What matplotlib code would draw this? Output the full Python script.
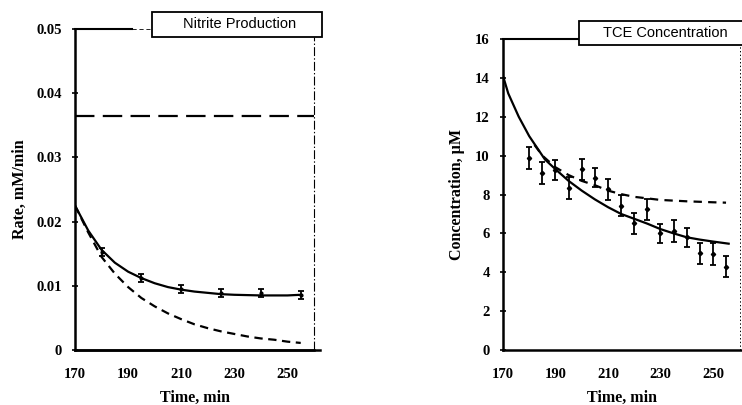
import numpy as np
import matplotlib
matplotlib.use('Agg')
from matplotlib import pyplot as plt
from matplotlib.patches import Rectangle

plt.rcParams['lines.scale_dashes'] = False
SERIF = ['Liberation Serif', 'DejaVu Serif']
SANS = ['Liberation Sans', 'DejaVu Sans']

#### DATA ####
# left panel: nitrite production rate
nit_t = [180, 195, 210, 225, 240, 255]
nit_rate = [0.0153, 0.0112, 0.0095, 0.0089, 0.0089, 0.0086]
nit_err = [0.0006, 0.0006, 0.0006, 0.0006, 0.0006, 0.0006]
nit_fit_t = [170, 175, 180, 185, 190, 195, 200, 205, 210, 215, 220, 225, 230, 240, 250, 255]
nit_fit = [0.0225, 0.0186, 0.0156, 0.0136, 0.0122, 0.0112, 0.0104, 0.0098, 0.0094,
           0.0091, 0.0089, 0.0087, 0.0086, 0.0085, 0.0085, 0.0086]
nit_alt_t = [170, 175, 180, 185, 190, 195, 200, 205, 210, 215, 220, 225, 230, 235, 240, 245, 250, 255]
nit_alt = [0.0225, 0.0183, 0.0145, 0.0119, 0.0098, 0.0081, 0.0068, 0.0057, 0.0048,
           0.0040, 0.0034, 0.0029, 0.0025, 0.0021, 0.0018, 0.0016, 0.0013, 0.0011]
nit_max = 0.0365

# right panel: TCE concentration
tce_t = [180, 185, 190, 195, 200, 205, 210, 215, 220, 225, 230, 235, 240, 245, 250, 255]
tce_c = [9.87, 9.1, 9.27, 8.33, 9.3, 8.87, 8.27, 7.42, 6.52, 7.24, 6.0, 6.13, 5.8, 4.98, 4.93, 4.29]
tce_err = [0.55, 0.55, 0.5, 0.55, 0.55, 0.5, 0.55, 0.55, 0.55, 0.55, 0.5, 0.55, 0.5, 0.55, 0.55, 0.55]
tce_fit_t = [170, 172, 174, 176, 178, 180, 182, 186, 190, 195, 200, 205, 210, 215,
             220, 225, 230, 235, 240, 245, 250, 256]
tce_fit = [14.1, 13.2, 12.6, 12.0, 11.5, 11.0, 10.6, 9.8, 9.3, 8.7, 8.2, 7.75, 7.35, 7.0,
           6.75, 6.5, 6.22, 6.0, 5.8, 5.68, 5.58, 5.47]
tce_alt_t = [182, 185, 190, 195, 200, 205, 210, 215, 220, 225, 230, 240, 250, 255]
tce_alt = [10.55, 10.0, 9.4, 9.0, 8.7, 8.48, 8.2, 8.02, 7.88, 7.8, 7.72, 7.65, 7.6, 7.58]

xticks = [170, 190, 210, 230, 250]

W, H = 742, 405
fig = plt.figure(figsize=(W/100, H/100), dpi=100)

def style_axes(ax):
    for s in ['top', 'right']:
        ax.spines[s].set_visible(False)
    ax.spines['left'].set_linewidth(1.8)
    ax.spines['bottom'].set_linewidth(1.8)
    ax.set_xticks(xticks)
    ax.tick_params(axis='x', length=0, pad=13)
    ax.tick_params(axis='y', direction='inout', length=5, width=1.2, pad=7)
    for lab in ax.get_xticklabels() + ax.get_yticklabels():
        lab.set_fontfamily(SERIF)
        lab.set_fontweight('bold')
        lab.set_fontsize(10.5)

def title_box(x0, y0, x1, y1, txt, tx):
    # box drawn in pixel units of the figure (origin top-left)
    fig.patches.append(Rectangle((x0/W, 1 - y1/H), (x1 - x0)/W, (y1 - y0)/H,
                                 transform=fig.transFigure, fc='white', ec='black',
                                 lw=1.3, zorder=5))
    fig.text(tx/W, 1 - (y0 + y1)/2/H, txt, fontfamily=SANS, fontsize=10.5,
             ha='center', va='center', zorder=6)

# ---- left panel ----
ax1 = fig.add_axes([75/W, 55/H, 239/W, 321/H])
ax1.plot(nit_fit_t, nit_fit, color='black', lw=1.6)
ax1.plot(nit_alt_t, nit_alt, color='black', lw=1.6, dashes=(6, 4))
ax1.axhline(nit_max, color='black', lw=1.6, dashes=(14, 6))
ax1.errorbar(nit_t, nit_rate, yerr=nit_err, fmt='o', ms=2, color='black',
             elinewidth=1.3, capsize=2.5, capthick=1.3)
ax1.set_xlim(170, 260)
ax1.set_ylim(0, 0.05)
ax1.set_yticks([0, 0.01, 0.02, 0.03, 0.04, 0.05])
ax1.set_yticklabels(['0', '0.01', '0.02', '0.03', '0.04', '0.05'])
style_axes(ax1)
ax1.set_xlabel('Time, min', fontfamily=SERIF, fontweight='bold', fontsize=11.5, labelpad=6)
ax1.set_ylabel('Rate, mM/min', fontfamily=SERIF, fontweight='bold', fontsize=11.5, labelpad=6)
# odd frame bits
ax1.plot([0, 0.24], [1, 1], transform=ax1.transAxes, color='black', lw=1.5, clip_on=False)
ax1.plot([0.24, 0.33], [1, 1], transform=ax1.transAxes, color='black', lw=0.6,
         dashes=(3, 2), clip_on=False)
ax1.plot([1, 1], [0, 0.975], transform=ax1.transAxes, color='black', lw=0.8,
         linestyle='-.', clip_on=False)
ax1.plot([0, 1.025], [0, 0], transform=ax1.transAxes, color='black', lw=1.8, clip_on=False)
title_box(152, 12, 322, 37, 'Nitrite Production', 240)

# ---- right panel ----
ax2 = fig.add_axes([503/W, 55/H, 238/W, 311/H])
ax2.plot(tce_fit_t, tce_fit, color='black', lw=1.6)
ax2.plot(tce_alt_t, tce_alt, color='black', lw=1.6, dashes=(6, 4.5))
ax2.errorbar(tce_t, tce_c, yerr=tce_err, fmt='D', ms=2.2, color='black',
             elinewidth=1.3, capsize=2.5, capthick=1.3)
ax2.set_xlim(170, 260.7)
ax2.set_ylim(0, 16)
ax2.set_yticks([0, 2, 4, 6, 8, 10, 12, 14, 16])
style_axes(ax2)
ax2.set_xlabel('Time, min', fontfamily=SERIF, fontweight='bold', fontsize=11.5, labelpad=6)
ax2.set_ylabel('Concentration, \u00b5M', fontfamily=SERIF, fontweight='bold', fontsize=11.5,
               labelpad=7)
ax2.plot([0, 0.35], [1, 1], transform=ax2.transAxes, color='black', lw=1.5, clip_on=False)
ax2.plot([0.995, 0.995], [0, 0.98], transform=ax2.transAxes, color='black', lw=0.7,
         linestyle=':', clip_on=False)
title_box(579, 21, 746, 45, 'TCE Concentration', 665)

fig.savefig('out.png', dpi=100)
